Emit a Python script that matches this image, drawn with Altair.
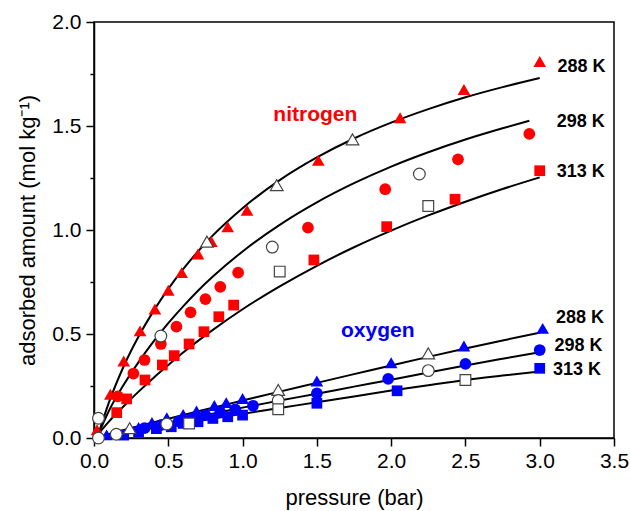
import altair as alt
import pandas as pd

# ---------------- measured points (filled symbols) ----------------
n2_288_p = [0.02, 0.11, 0.20, 0.31, 0.41, 0.50, 0.59, 0.70, 0.79, 0.90, 1.03, 1.51, 2.06, 2.49, 3.00]
n2_288_q = [0.04, 0.21, 0.37, 0.515, 0.62, 0.71, 0.795, 0.885, 0.945, 1.015, 1.095, 1.335, 1.54, 1.675, 1.81]
n2_298_p = [0.16, 0.265, 0.34, 0.45, 0.555, 0.65, 0.75, 0.85, 0.97, 1.44, 1.96, 2.45, 2.93]
n2_298_q = [0.20, 0.31, 0.375, 0.452, 0.535, 0.604, 0.668, 0.727, 0.795, 1.011, 1.196, 1.34, 1.462]
n2_313_p = [0.153, 0.22, 0.343, 0.46, 0.54, 0.64, 0.74, 0.84, 0.94, 1.48, 1.97, 2.43, 3.00]
n2_313_q = [0.122, 0.188, 0.279, 0.351, 0.396, 0.452, 0.511, 0.583, 0.639, 0.856, 1.016, 1.148, 1.285]

o2_288_p = [0.085, 0.30, 0.39, 0.49, 0.60, 0.69, 0.81, 0.89, 1.00, 1.50, 2.00, 2.49, 3.02]
o2_288_q = [0.015, 0.05, 0.075, 0.097, 0.113, 0.13, 0.156, 0.17, 0.19, 0.274, 0.362, 0.442, 0.527]
o2_298_p = [0.34, 0.45, 0.57, 0.66, 0.75, 0.85, 0.95, 1.07, 1.50, 1.98, 2.50, 3.00]
o2_298_q = [0.047, 0.062, 0.08, 0.095, 0.11, 0.124, 0.138, 0.155, 0.215, 0.284, 0.356, 0.423]
o2_313_p = [0.20, 0.30, 0.42, 0.52, 0.60, 0.70, 0.80, 0.90, 1.00, 1.50, 2.04, 3.00]
o2_313_q = [0.014, 0.03, 0.045, 0.054, 0.07, 0.078, 0.094, 0.102, 0.11, 0.167, 0.227, 0.335]

# ---------------- measured points (open symbols) ----------------
n2_288_open_p = [0.76, 1.23, 1.74]
n2_288_open_q = [0.944, 1.216, 1.436]
n2_298_open_p = [0.03, 0.45, 1.20, 2.19]
n2_298_open_q = [0.095, 0.49, 0.918, 1.269]
n2_313_open_p = [1.25, 2.25]
n2_313_open_q = [0.80, 1.115]

o2_288_open_p = [0.24, 1.24, 2.25]
o2_288_open_q = [0.047, 0.231, 0.407]
o2_298_open_p = [0.03, 0.15, 0.49, 1.24, 2.25]
o2_298_open_q = [0.0, 0.018, 0.067, 0.18, 0.324]
o2_313_open_p = [0.64, 1.24, 2.50]
o2_313_open_q = [0.07, 0.138, 0.279]

# ---------------- fitted curves ----------------
n2_fit_p = [0.03, 0.1, 0.2, 0.3, 0.4, 0.5, 0.6, 0.7, 0.8, 1.0, 1.25, 1.5, 1.75, 2.0, 2.25, 2.5, 2.75, 3.0]
n2_288_fit = [0.02, 0.17, 0.345, 0.488, 0.61, 0.717, 0.812, 0.897, 0.974, 1.105, 1.24, 1.349, 1.44, 1.516, 1.581, 1.638, 1.687, 1.731]
n2_313_fit = [0.02, 0.079, 0.153, 0.223, 0.289, 0.351, 0.411, 0.467, 0.52, 0.619, 0.729, 0.828, 0.917, 0.997, 1.07, 1.136, 1.197, 1.253]
n2_298_fit_p = [0.03, 0.1, 0.2, 0.3, 0.4, 0.5, 0.6, 0.7, 0.8, 1.0, 1.25, 1.5, 1.75, 2.0, 2.25, 2.5, 2.75, 2.93]
n2_298_fit = [0.02, 0.13, 0.256, 0.365, 0.463, 0.552, 0.633, 0.708, 0.776, 0.897, 1.025, 1.133, 1.225, 1.305, 1.374, 1.435, 1.489, 1.525]

o2_fit_p = [0.03, 0.25, 0.5, 0.75, 1.0, 1.25, 1.5, 1.75, 2.0, 2.25, 2.5, 2.75, 3.0]
o2_288_fit = [0.005, 0.048, 0.093, 0.137, 0.18, 0.223, 0.265, 0.307, 0.349, 0.39, 0.43, 0.469, 0.506]
o2_298_fit = [0.005, 0.038, 0.075, 0.11, 0.146, 0.18, 0.213, 0.247, 0.28, 0.315, 0.349, 0.381, 0.412]
o2_313_fit = [0.005, 0.03, 0.06, 0.088, 0.116, 0.144, 0.172, 0.2, 0.228, 0.254, 0.279, 0.3, 0.32]

# ---------------- annotations ----------------
gas_labels = ["nitrogen", "oxygen"]
gas_label_p = [1.49, 1.91]
gas_label_q = [1.524, 0.486]
gas_label_color = ["#ff0000", "#0000ff"]

temp_labels = ["288 K", "298 K", "313 K", "288 K", "298 K", "313 K"]
temp_label_p = [3.12, 3.115, 3.115, 3.11, 3.10, 3.09]
temp_label_q = [1.761, 1.494, 1.253, 0.551, 0.42, 0.303]

x_ticks = [0, 0.25, 0.5, 0.75, 1.0, 1.25, 1.5, 1.75, 2.0, 2.25, 2.5, 2.75, 3.0, 3.25, 3.5]
y_ticks = [0, 0.25, 0.5, 0.75, 1.0, 1.25, 1.5, 1.75, 2.0]


def rows(p, q, gas, temp):
    return [{"p": a, "q": b, "gas": gas, "temp": temp} for a, b in zip(p, q)]


filled = pd.DataFrame(
    rows(n2_288_p, n2_288_q, "N2", "288 K") + rows(n2_298_p, n2_298_q, "N2", "298 K")
    + rows(n2_313_p, n2_313_q, "N2", "313 K") + rows(o2_288_p, o2_288_q, "O2", "288 K")
    + rows(o2_298_p, o2_298_q, "O2", "298 K") + rows(o2_313_p, o2_313_q, "O2", "313 K")
)
opened = pd.DataFrame(
    rows(n2_288_open_p, n2_288_open_q, "N2", "288 K") + rows(n2_298_open_p, n2_298_open_q, "N2", "298 K")
    + rows(n2_313_open_p, n2_313_open_q, "N2", "313 K") + rows(o2_288_open_p, o2_288_open_q, "O2", "288 K")
    + rows(o2_298_open_p, o2_298_open_q, "O2", "298 K") + rows(o2_313_open_p, o2_313_open_q, "O2", "313 K")
)
fits = pd.DataFrame(
    [dict(r, series="N2 288") for r in rows(n2_fit_p, n2_288_fit, "N2", "288 K")]
    + [dict(r, series="N2 298") for r in rows(n2_298_fit_p, n2_298_fit, "N2", "298 K")]
    + [dict(r, series="N2 313") for r in rows(n2_fit_p, n2_313_fit, "N2", "313 K")]
    + [dict(r, series="O2 288") for r in rows(o2_fit_p, o2_288_fit, "O2", "288 K")]
    + [dict(r, series="O2 298") for r in rows(o2_fit_p, o2_298_fit, "O2", "298 K")]
    + [dict(r, series="O2 313") for r in rows(o2_fit_p, o2_313_fit, "O2", "313 K")]
)
gas_df = pd.DataFrame({"p": gas_label_p, "q": gas_label_q, "label": gas_labels, "color": gas_label_color})
temp_df = pd.DataFrame({"p": temp_label_p, "q": temp_label_q, "label": temp_labels})

FONT = "Liberation Sans"
minor_test = "datum.value % 0.5 != 0"

x_enc = alt.X(
    "p:Q",
    scale=alt.Scale(domain=[0, 3.5], nice=False, zero=False),
    axis=alt.Axis(
        values=x_ticks,
        labelExpr="datum.value % 0.5 == 0 ? format(datum.value, '.1f') : ''",
        tickSize={"condition": {"test": minor_test, "value": 4}, "value": 8},
        labelOverlap=False,
        labelFlush=False,
        labelPadding=4,
        title="pressure (bar)",
        titlePadding=16,
    ),
)
y_enc = alt.Y(
    "q:Q",
    scale=alt.Scale(domain=[0, 2.0], nice=False, zero=False),
    axis=alt.Axis(
        values=y_ticks,
        labelExpr="datum.value % 0.5 == 0 ? format(datum.value, '.1f') : ''",
        tickSize={"condition": {"test": minor_test, "value": 4}, "value": 8},
        labelOverlap=False,
        labelFlush=False,
        labelPadding=5,
        title="adsorbed amount (mol kg⁻¹)",
        titlePadding=12,
    ),
)

shape_scale = alt.Scale(domain=["288 K", "298 K", "313 K"], range=["triangle-up", "circle", "square"])
size_scale = alt.Scale(domain=["288 K", "298 K", "313 K"], range=[160, 115, 95])

lines = alt.Chart(fits).mark_line(color="black", strokeWidth=2, interpolate="monotone").encode(
    x=x_enc, y=y_enc, detail="series:N", order="p:Q"
)

pts_filled = alt.Chart(filled).mark_point(filled=True, opacity=1).encode(
    x="p:Q",
    y="q:Q",
    shape=alt.Shape("temp:N", scale=shape_scale, legend=None),
    size=alt.Size("temp:N", scale=size_scale, legend=None),
    color=alt.Color("gas:N", scale=alt.Scale(domain=["N2", "O2"], range=["#ff0000", "#0000ff"]), legend=None),
)

pts_open = alt.Chart(opened).mark_point(filled=True, fill="white", stroke="#444444", strokeWidth=1.2, opacity=1).encode(
    x="p:Q",
    y="q:Q",
    shape=alt.Shape("temp:N", scale=shape_scale, legend=None),
    size=alt.Size("temp:N", scale=size_scale, legend=None),
)

gas_text = alt.Chart(gas_df).mark_text(
    font=FONT, fontSize=21, fontWeight="bold", align="center", baseline="alphabetic"
).encode(x="p:Q", y="q:Q", text="label:N", color=alt.Color("color:N", scale=None))

temp_text = alt.Chart(temp_df).mark_text(
    font=FONT, fontSize=18, fontWeight="bold", align="left", baseline="alphabetic", color="black"
).encode(x="p:Q", y="q:Q", text="label:N")

chart = (
    alt.layer(lines, pts_filled, pts_open, gas_text, temp_text)
    .properties(
        width=520,
        height=416,
        autosize=alt.AutoSizeParams(type="none"),
        padding={"left": 94, "top": 22, "right": 16, "bottom": 73},
        background="white",
    )
    .configure_view(stroke="black", strokeWidth=1.5)
    .configure_axis(
        grid=False,
        domainColor="black",
        domainWidth=1.5,
        tickColor="black",
        tickWidth=1.5,
        labelFont=FONT,
        labelFontSize=21,
        labelColor="black",
        titleFont=FONT,
        titleFontSize=22,
        titleFontWeight="normal",
        titleColor="black",
    )
)

chart.save("out.html", embed_options={"renderer": "svg", "actions": False})
